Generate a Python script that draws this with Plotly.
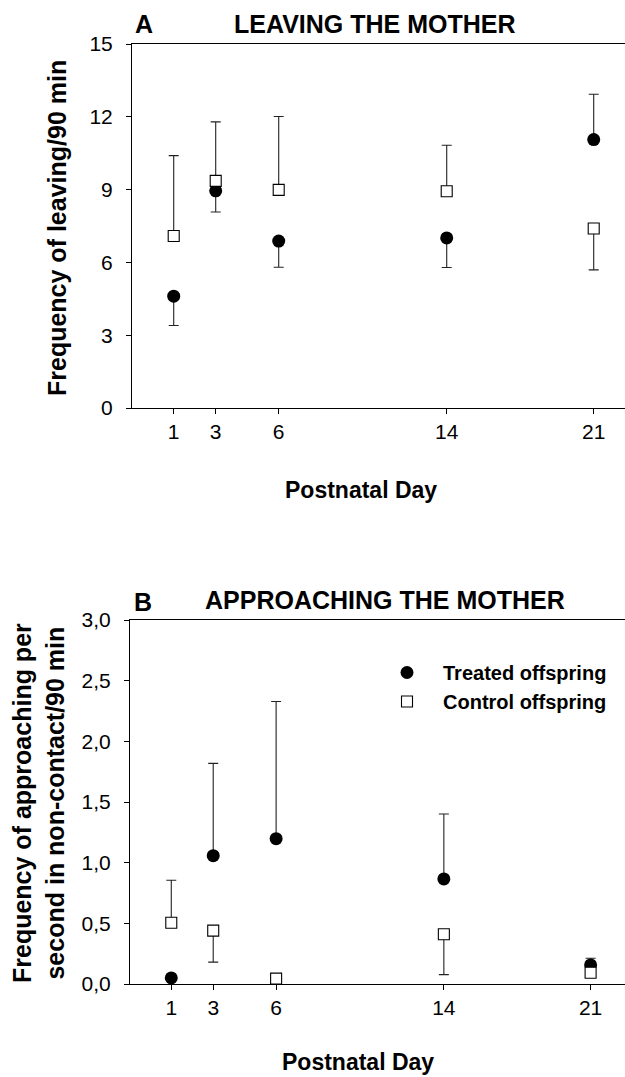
import plotly.graph_objects as go

# ---------------- data ----------------
days = [1, 3, 6, 14, 21]
day_ticks = [1, 3, 6, 14, 21]

# Panel A: leaving the mother (frequency / 90 min)
a_treated = [4.61, 8.95, 6.88, 7.01, 11.06]
a_treated_up = [0, 0, 0, 0, 1.87]
a_treated_down = [1.21, 0.87, 1.08, 1.22, 0]
a_control = [7.09, 9.36, 8.99, 8.93, 7.40]
a_control_up = [3.31, 2.43, 3.02, 1.90, 0]
a_control_down = [0, 0, 0, 0, 1.71]
a_yticks = [0, 3, 6, 9, 12, 15]

# Panel B: approaching the mother (frequency per second in non-contact / 90 min)
b_treated = [0.05, 1.058, 1.198, 0.866, 0.157]
b_treated_up = [0, 0.76, 1.13, 0.535, 0.055]
b_treated_down = [0, 0, 0, 0, 0]
b_control = [0.505, 0.44, 0.044, 0.41, 0.093]
b_control_up = [0.35, 0, 0, 0, 0]
b_control_down = [0, 0.26, 0, 0.333, 0]
b_yticks = [0, 0.5, 1.0, 1.5, 2.0, 2.5, 3.0]

W, H = 625, 1077
FONT = "Liberation Sans, Arial, sans-serif"


def px(p):
    return p / W


def py(p):
    return 1 - p / H


err_style = dict(type="data", symmetric=False, color="#222222", thickness=1.1, width=5)
treated_marker = dict(symbol="circle", size=13, color="black", line=dict(width=0))
control_marker = dict(symbol="square", size=11, color="white", line=dict(width=1.1, color="black"))

fig = go.Figure()

# Panel A
fig.add_trace(go.Scatter(x=days, y=a_treated, mode="markers", marker=treated_marker,
                         error_y=dict(array=a_treated_up, arrayminus=a_treated_down, **err_style),
                         xaxis="x", yaxis="y", showlegend=False, name="Treated offspring"))
fig.add_trace(go.Scatter(x=days, y=a_control, mode="markers", marker=control_marker,
                         error_y=dict(array=a_control_up, arrayminus=a_control_down, **err_style),
                         xaxis="x", yaxis="y", showlegend=False, name="Control offspring"))
# Panel B
fig.add_trace(go.Scatter(x=days, y=b_treated, mode="markers", marker=treated_marker,
                         error_y=dict(array=b_treated_up, arrayminus=b_treated_down, **err_style),
                         xaxis="x2", yaxis="y2", showlegend=True, name="Treated offspring"))
fig.add_trace(go.Scatter(x=days, y=b_control, mode="markers", marker=control_marker,
                         error_y=dict(array=b_control_up, arrayminus=b_control_down, **err_style),
                         xaxis="x2", yaxis="y2", showlegend=True, name="Control offspring"))

axis_common = dict(showline=True, linecolor="black", linewidth=1, ticks="outside", ticklen=5,
                   tickwidth=1, tickcolor="black", showgrid=False, zeroline=False,
                   automargin=False,
                   tickfont=dict(family=FONT, size=21, color="black"))

fig.update_layout(
    template="none",
    width=W, height=H,
    margin=dict(l=0, r=0, t=0, b=0, pad=0),
    paper_bgcolor="white", plot_bgcolor="white",
    separators=",.",
    font=dict(family=FONT, color="black"),
    xaxis=dict(domain=[px(132), 1], range=[-0.986, 22.49], tickvals=day_ticks, mirror=True,
               anchor="y", **axis_common),
    yaxis=dict(domain=[py(408), py(44)], range=[0, 15], tickvals=a_yticks,
               anchor="x", ticklabelstandoff=9, **axis_common),
    xaxis2=dict(domain=[px(130), 1], range=[-0.969, 22.64], tickvals=day_ticks, mirror=True,
                anchor="y2", **axis_common),
    yaxis2=dict(domain=[py(984), py(620)], range=[0, 3], tickvals=b_yticks, tickformat=".1f",
                anchor="x2", ticklabelstandoff=9, **axis_common),
    legend=dict(x=px(371), y=py(653), xanchor="left", yanchor="top",
                font=dict(family=FONT, size=20, color="black", weight="bold"),
                itemwidth=62, bgcolor="rgba(0,0,0,0)", borderwidth=0, tracegroupgap=0),
)

bold = lambda s: dict(family=FONT, size=s, color="black", weight="bold")
annotations = [
    dict(text="A", x=px(133), y=py(23.5), xanchor="left", yanchor="middle", font=bold(25)),
    dict(text="LEAVING THE MOTHER", x=px(374), y=py(24), xanchor="center", yanchor="middle", font=bold(25)),
    dict(text="Frequency of leaving/90 min", x=px(57), y=py(228), textangle=-90,
         xanchor="center", yanchor="middle", font=bold(25)),
    dict(text="Postnatal Day", x=px(361), y=py(489.5), xanchor="center", yanchor="middle", font=bold(23)),
    dict(text="B", x=px(131.5), y=py(602), xanchor="left", yanchor="middle", font=bold(25)),
    dict(text="APPROACHING THE MOTHER", x=px(385), y=py(599.5), xanchor="center", yanchor="middle", font=bold(25)),
    dict(text="Frequency of approaching per<br>second in non-contact/90 min", x=px(38), y=py(803),
         textangle=-90, xanchor="center", yanchor="middle", font=bold(25)),
    dict(text="Postnatal Day", x=px(358), y=py(1062), xanchor="center", yanchor="middle", font=bold(23)),
]
for a in annotations:
    a.update(xref="paper", yref="paper", showarrow=False)
fig.update_layout(annotations=annotations)

fig.write_html("out.html")
